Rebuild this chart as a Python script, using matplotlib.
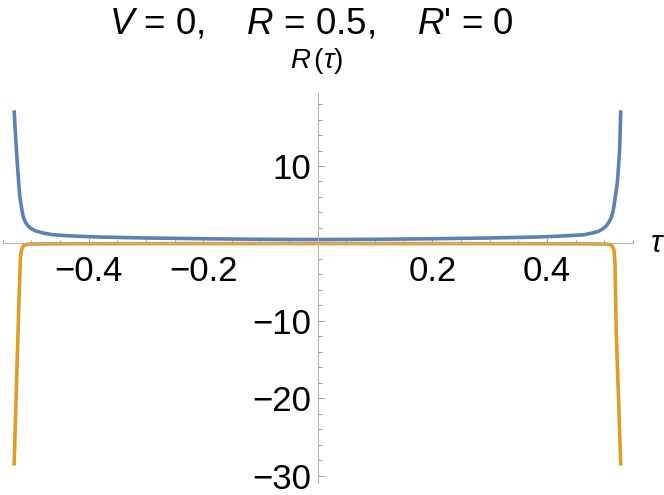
import numpy as np
import matplotlib.pyplot as plt
from matplotlib.ticker import FixedLocator

plt.rcParams['font.family'] = ['Liberation Sans', 'DejaVu Sans']
plt.rcParams['mathtext.fontset'] = 'custom'
plt.rcParams['mathtext.rm'] = 'Liberation Sans'
plt.rcParams['mathtext.it'] = 'Liberation Sans:italic'

# values
tau_blue = [-0.530, -0.528, -0.526, -0.524, -0.522, -0.520, -0.517, -0.514, -0.510,
            -0.505, -0.500, -0.492, -0.480, -0.465, -0.450, -0.420, -0.380, -0.300,
            -0.200, -0.100, 0.000, 0.100, 0.200, 0.300, 0.380, 0.420, 0.450, 0.465,
            0.480, 0.490, 0.497, 0.503, 0.508, 0.512, 0.515, 0.517, 0.520, 0.523,
            0.525, 0.527, 0.529]
R_blue = [17.2, 14.6, 12.1, 9.9, 7.8, 6.0, 4.6, 3.4, 2.7,
          2.2, 1.9, 1.6, 1.35, 1.15, 1.05, 0.93, 0.82, 0.70,
          0.60, 0.53, 0.50, 0.53, 0.60, 0.70, 0.82, 0.93, 1.05, 1.12,
          1.35, 1.55, 1.85, 2.2, 2.7, 3.25, 4.0, 4.75, 6.3, 7.8,
          9.8, 12.1, 17.2]

tau_orange = [-0.530, -0.526, -0.522, -0.519, -0.517, -0.514, -0.510, -0.505, -0.450,
              -0.300, 0.000, 0.300, 0.450, 0.505, 0.510, 0.514, 0.517, 0.519,
              0.521, 0.525, 0.529]
R_orange = [-28.7, -18.6, -8.6, -1.8, -0.8, -0.35, -0.15, -0.08, -0.05,
            -0.03, -0.02, -0.03, -0.05, -0.08, -0.15, -0.35, -0.8, -2.6,
            -11.2, -19.8, -28.7]

x_major = [-0.4, -0.2, 0.2, 0.4]
y_major = [-30, -20, -10, 10]

fig = plt.figure(figsize=(6.64, 4.95), dpi=100)
ax = fig.add_axes([0.004, 0.0236, 0.949, 0.788])

ax.plot(tau_blue, R_blue, color='#5e81b5', lw=2.6, solid_capstyle='butt')
ax.plot(tau_orange, R_orange, color='#e19c24', lw=2.6, solid_capstyle='butt')

ax.set_xlim(-0.55, 0.55)
ax.set_ylim(-31, 19.4)

for s in ['top', 'right']:
    ax.spines[s].set_visible(False)
ax.spines['left'].set_position(('data', 0))
ax.spines['bottom'].set_position(('data', 0))
for s in ['left', 'bottom']:
    ax.spines[s].set_color('#b4b4b4')
    ax.spines[s].set_linewidth(0.8)

ax.xaxis.set_major_locator(FixedLocator(x_major))
ax.xaxis.set_minor_locator(FixedLocator(np.arange(-0.55, 0.551, 0.05)))
ax.yaxis.set_major_locator(FixedLocator(y_major))
ax.yaxis.set_minor_locator(FixedLocator(np.arange(-30, 19, 2)))
ax.set_xticklabels(['\u22120.4', '\u22120.2', '0.2', '0.4'])
ax.set_yticklabels(['\u221230', '\u221220', '\u221210', '10'])

ax.tick_params(axis='both', which='both', direction='in', color='#a0a0a0', width=0.7,
               labelsize=25, labelcolor='black')
ax.tick_params(axis='x', which='major', length=3.5, pad=8)
ax.tick_params(axis='x', which='minor', length=2.2)
ax.tick_params(axis='y', which='major', length=5, pad=5)
ax.tick_params(axis='y', which='minor', length=3)

fig.text(0.469, 0.933, "$V$ = 0,    $R$ = 0.5,    $R$' = 0", fontsize=26.5,
         ha='center', va='baseline')
fig.text(0.477, 0.862, r'$R\,(\tau)$', fontsize=20, ha='center', va='baseline')
fig.text(0.979, 0.491, r'$\tau$', fontsize=22, ha='left', va='baseline')

fig.savefig('out.png', dpi=100)
